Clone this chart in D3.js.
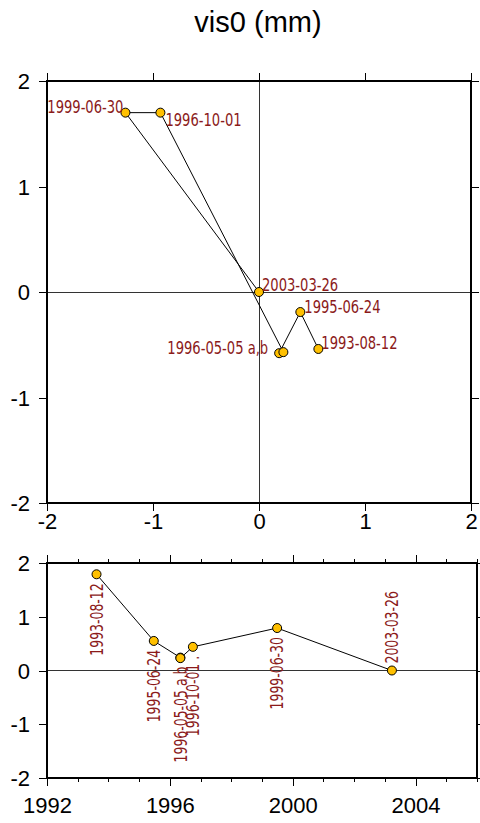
<!DOCTYPE html>
<html>
<head>
<meta charset="utf-8">
<script src="https://cdn.jsdelivr.net/npm/d3@7"></script>
<style>
body { margin: 0; background: #fff; }
svg { display: block; font-family: "Liberation Sans", Arial, sans-serif; }
.axis text { font-size: 22px; fill: #000; }
.axis line { stroke: #000; stroke-width: 1; shape-rendering: crispEdges; }
.axis path { display: none; }
.frame { fill: none; stroke: #000; stroke-width: 2; }
.zero { stroke: #333; stroke-width: 1; shape-rendering: crispEdges; }
.track { fill: none; stroke: #000; stroke-width: 1; }
.pt { fill: #ffc000; stroke: #000; stroke-width: 1; }
.lbl { font-family: "Liberation Sans Narrow", "DejaVu Sans Condensed", sans-serif; font-size: 18px; fill: #8b1a1a; }
.title { font-size: 29px; fill: #000; }
</style>
</head>
<body>
<script>

// data

const dates = ['1993-08-12', '1995-06-24', '1996-05-05', '1996-05-05', '1996-10-01', '1999-06-30', '2003-03-26']
const eastVals = [0.56, 0.39, 0.19, 0.23, -0.93, -1.26, 0]
const northVals = [-0.54, -0.19, -0.58, -0.57, 1.70, 1.70, 0]
const vertVals = [1.79, 0.55, 0.24, 0.23, 0.44, 0.79, 0]

const topLabels = ['1993-08-12', '1995-06-24', '1996-05-05 a,b', '', '1996-10-01', '1999-06-30', '2003-03-26']
const bottomLabels = ['1993-08-12', '1995-06-24', '1996-05-05 a,b', '', '1996-10-01 .', '1999-06-30', '2003-03-26']

const mmTicks = [-2, -1, 0, 1, 2]
const yearTicks = [1992, 1996, 2000, 2004]
const yearRange = [1992, 2006]

// layout

const WIDTH = 480, HEIGHT = 823
const TOP = { left: 47, right: 471, top: 81, bottom: 503 }
const BOT = { left: 47, right: 477, top: 563, bottom: 778 }
const TICK = 8, MINOR = 4
// labels are set in a narrow face; squeeze the condensed fallback to match
const SQUEEZE_TOP = 0.81, SQUEEZE_BOT = 0.77

// where each label of the top panel sits relative to its point: [dx, dy, anchor]
const TOP_PLACE = [[3, 0, 'start'], [4, 1, 'start'], [-11, 1, 'end'], null,
                   [5, 13, 'start'], [-2, 0, 'end'], [3, -1, 'start']]

const parse = d3.timeParse('%Y-%m-%d')
const points = dates.map((d, i) => ({
  date: parse(d), e: eastVals[i], n: northVals[i], v: vertVals[i],
  topLabel: topLabels[i], botLabel: bottomLabels[i], place: TOP_PLACE[i]
}))

const svg = d3.select('body').append('svg')
  .attr('width', WIDTH)
  .attr('height', HEIGHT)

svg.append('text')
  .attr('class', 'title')
  .attr('x', 258)
  .attr('y', 32)
  .attr('text-anchor', 'middle')
  .text('vis0 (mm)')

// top panel: north vs east

const x = d3.scaleLinear().domain([-2, 2]).range([TOP.left, TOP.right])
const y = d3.scaleLinear().domain([-2, 2]).range([TOP.bottom, TOP.top])
const fmt = (d) => String(d)

let upper = svg.append('g').attr('class', 'upper')

upper.append('line').attr('class', 'zero')
  .attr('x1', x(0)).attr('x2', x(0)).attr('y1', y(2)).attr('y2', y(-2))
upper.append('line').attr('class', 'zero')
  .attr('x1', x(-2)).attr('x2', x(2)).attr('y1', y(0)).attr('y2', y(0))

upper.append('g').attr('class', 'axis')
  .attr('transform', 'translate(0,' + TOP.bottom + ')')
  .call(d3.axisBottom(x).tickValues(mmTicks).tickSize(TICK).tickSizeOuter(0).tickPadding(2).tickFormat(fmt))
upper.append('g').attr('class', 'axis')
  .attr('transform', 'translate(0,' + TOP.top + ')')
  .call(d3.axisTop(x).tickValues(mmTicks).tickSize(TICK).tickSizeOuter(0).tickFormat(''))
upper.append('g').attr('class', 'axis')
  .attr('transform', 'translate(' + TOP.left + ',0)')
  .call(d3.axisLeft(y).tickValues(mmTicks).tickSize(TICK).tickSizeOuter(0).tickPadding(9).tickFormat(fmt))
  .selectAll('text').attr('dy', '0.35em')
upper.append('g').attr('class', 'axis')
  .attr('transform', 'translate(' + TOP.right + ',0)')
  .call(d3.axisRight(y).tickValues(mmTicks).tickSize(TICK).tickSizeOuter(0).tickFormat(''))

upper.append('rect').attr('class', 'frame')
  .attr('x', TOP.left).attr('y', TOP.top)
  .attr('width', TOP.right - TOP.left).attr('height', TOP.bottom - TOP.top)

upper.append('path').attr('class', 'track')
  .attr('d', d3.line().x((d) => x(d.e)).y((d) => y(d.n))(points))

upper.selectAll('.pt').data(points).enter().append('circle')
  .attr('class', 'pt')
  .attr('cx', (d) => x(d.e))
  .attr('cy', (d) => y(d.n))
  .attr('r', 4.5)

upper.selectAll('.lbl').data(points.filter((d) => d.topLabel)).enter().append('text')
  .attr('class', 'lbl')
  .attr('transform', (d) => 'translate(' + (x(d.e) + d.place[0]) + ',' + (y(d.n) + d.place[1]) + ') scale(' + SQUEEZE_TOP + ',1)')
  .attr('text-anchor', (d) => d.place[2])
  .text((d) => d.topLabel)

// bottom panel: vertical vs time

const t = d3.scaleTime()
  .domain(yearRange.map((yr) => new Date(yr, 0, 1)))
  .range([BOT.left, BOT.right])
const v = d3.scaleLinear().domain([-2, 2]).range([BOT.bottom, BOT.top])

const years = d3.range(yearRange[0], yearRange[1] + 1).map((yr) => new Date(yr, 0, 1))
const majors = yearTicks.map((yr) => new Date(yr, 0, 1))

let lower = svg.append('g').attr('class', 'lower')

lower.append('line').attr('class', 'zero')
  .attr('x1', t.range()[0]).attr('x2', t.range()[1]).attr('y1', v(0)).attr('y2', v(0))

lower.append('g').attr('class', 'axis')
  .attr('transform', 'translate(0,' + BOT.bottom + ')')
  .call(d3.axisBottom(t).tickValues(years).tickSize(MINOR).tickSizeOuter(0).tickFormat(''))
lower.append('g').attr('class', 'axis')
  .attr('transform', 'translate(0,' + BOT.bottom + ')')
  .call(d3.axisBottom(t).tickValues(majors).tickSize(TICK).tickSizeOuter(0).tickPadding(11).tickFormat(d3.timeFormat('%Y')))
lower.append('g').attr('class', 'axis')
  .attr('transform', 'translate(0,' + BOT.top + ')')
  .call(d3.axisTop(t).tickValues(years).tickSize(MINOR).tickSizeOuter(0).tickFormat(''))
lower.append('g').attr('class', 'axis')
  .attr('transform', 'translate(0,' + BOT.top + ')')
  .call(d3.axisTop(t).tickValues(majors).tickSize(TICK).tickSizeOuter(0).tickFormat(''))
lower.append('g').attr('class', 'axis')
  .attr('transform', 'translate(' + BOT.left + ',0)')
  .call(d3.axisLeft(v).tickValues(mmTicks).tickSize(TICK).tickSizeOuter(0).tickPadding(9).tickFormat(fmt))
  .selectAll('text').attr('dy', '0.35em')
lower.append('g').attr('class', 'axis')
  .attr('transform', 'translate(' + BOT.right + ',0)')
  .call(d3.axisRight(v).tickValues(mmTicks).tickSize(TICK).tickSizeOuter(0).tickFormat(''))

lower.append('rect').attr('class', 'frame')
  .attr('x', BOT.left).attr('y', BOT.top)
  .attr('width', BOT.right - BOT.left).attr('height', BOT.bottom - BOT.top)

lower.append('path').attr('class', 'track')
  .attr('d', d3.line().x((d) => t(d.date)).y((d) => v(d.v))(points))

lower.selectAll('.pt').data(points).enter().append('circle')
  .attr('class', 'pt')
  .attr('cx', (d) => t(d.date))
  .attr('cy', (d) => v(d.v))
  .attr('r', 4.5)

// labels run upward; below the point when the value is positive, above otherwise
lower.selectAll('.lbl').data(points.filter((d) => d.botLabel)).enter().append('text')
  .attr('class', 'lbl')
  .attr('transform', (d) => 'translate(' + t(d.date) + ',' + v(d.v) + ') rotate(-90) scale(' + SQUEEZE_BOT + ',1)')
  .attr('x', (d) => (d.v > 0 ? -9 : 7) / SQUEEZE_BOT)
  .attr('dy', '0.35em')
  .attr('text-anchor', (d) => d.v > 0 ? 'end' : 'start')
  .text((d) => d.botLabel)

</script>
</body>
</html>
